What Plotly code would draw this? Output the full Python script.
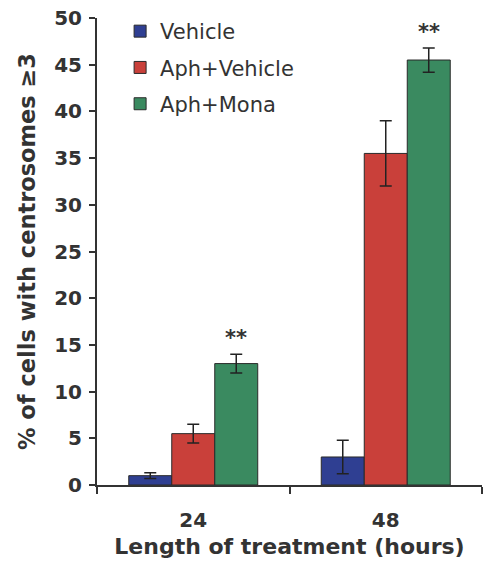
import plotly.graph_objects as go

# Treatment durations (hours) and group means / SEM
categories = ["24", "48"]
series_names = ["Vehicle", "Aph+Vehicle", "Aph+Mona"]
vehicle = [1.0, 3.0]
vehicle_err = [0.3, 1.8]
aph_vehicle = [5.5, 35.5]
aph_vehicle_err = [1.0, 3.5]
aph_mona = [13.0, 45.5]
aph_mona_err = [1.0, 1.3]
significance = ["**", "**"]

colors = ["#2f3f92", "#c9403a", "#3a8a60"]
values = [vehicle, aph_vehicle, aph_mona]
errors = [vehicle_err, aph_vehicle_err, aph_mona_err]

FONT = "DejaVu Sans"
TEXT = "#333333"

fig = go.Figure()
for name, vals, errs, col in zip(series_names, values, errors, colors):
    fig.add_trace(go.Bar(
        name=name, x=categories, y=vals, legendgroup=name,
        marker=dict(color=col, line=dict(color="#2a2a2a", width=1)),
        error_y=dict(type="data", array=errs, visible=True,
                     color="#222222", thickness=1.5, width=6),
    ))

bargap = 0.33
bar_w = (1 - bargap) / 3
for i, (v, e, s) in enumerate(zip(aph_mona, aph_mona_err, significance)):
    fig.add_annotation(x=i + bar_w, y=v + e, text=s, showarrow=False,
                       yanchor="bottom", yshift=2,
                       font=dict(family=FONT, size=21, color=TEXT, weight="bold"))

fig.update_layout(
    width=483, height=570,
    margin=dict(l=97, r=1, t=18, b=85),
    paper_bgcolor="white", plot_bgcolor="white",
    barmode="group", bargap=bargap, bargroupgap=0,
    font=dict(family=FONT, color=TEXT),
    showlegend=True,
    legend=dict(x=0.06, y=1.015, xanchor="left", yanchor="top",
                font=dict(family=FONT, size=21, color=TEXT),
                bgcolor="rgba(0,0,0,0)", itemwidth=30, tracegroupgap=6),
    xaxis=dict(
        type="category", tickson="boundaries",
        ticks="outside", ticklen=7, tickwidth=2, tickcolor="#333",
        ticklabelstandoff=16,
        showline=True, linecolor="#333", linewidth=2,
        tickfont=dict(family=FONT, size=20, color=TEXT, weight="bold"),
        title=dict(text="Length of treatment (hours)", standoff=8,
                   font=dict(family=FONT, size=22, color=TEXT, weight="bold")),
        showgrid=False,
    ),
    yaxis=dict(
        range=[0, 50], dtick=5, tick0=0,
        ticks="outside", ticklen=6, tickwidth=2, tickcolor="#333",
        ticklabelstandoff=3,
        showline=True, linecolor="#333", linewidth=2,
        tickfont=dict(family=FONT, size=20, color=TEXT, weight="bold"),
        title=dict(text="% of cells with centrosomes \u22653", standoff=12,
                   font=dict(family=FONT, size=22.5, color=TEXT, weight="bold")),
        showgrid=False, zeroline=False,
    ),
)

fig.write_html("out.html")
